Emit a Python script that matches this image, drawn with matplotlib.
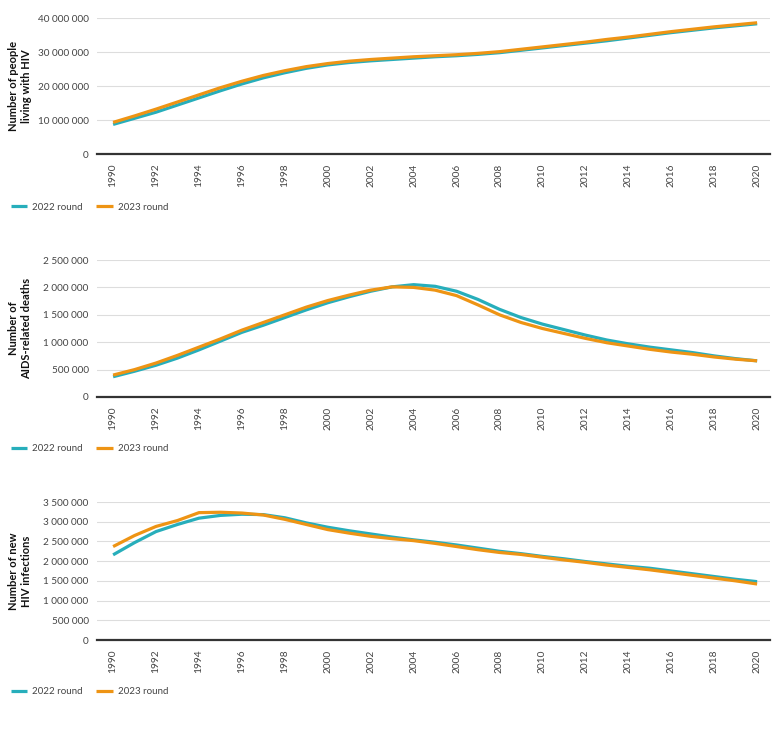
import matplotlib
matplotlib.use('Agg')
import matplotlib.pyplot as plt
from matplotlib.ticker import FuncFormatter, MultipleLocator
import numpy as np

plt.rcParams['font.family'] = ['Lato', 'DejaVu Sans']

# Data
years = list(range(1990, 2021))

plhiv_2022 = [8.7, 10.5, 12.3, 14.4, 16.5, 18.6, 20.6, 22.4, 23.9, 25.2, 26.2,
              26.9, 27.4, 27.8, 28.2, 28.6, 28.9, 29.3, 29.8, 30.5, 31.2,
              31.9, 32.6, 33.3, 34.1, 34.9, 35.7, 36.4, 37.1, 37.7, 38.3]
plhiv_2023 = [9.3, 11.2, 13.2, 15.3, 17.4, 19.5, 21.4, 23.1, 24.5, 25.7, 26.6,
              27.3, 27.8, 28.2, 28.6, 28.9, 29.2, 29.6, 30.1, 30.8, 31.5,
              32.2, 32.9, 33.7, 34.4, 35.2, 36.0, 36.7, 37.4, 38.0, 38.6]

deaths_2022 = [0.37, 0.47, 0.58, 0.71, 0.86, 1.02, 1.18, 1.31, 1.45, 1.59, 1.72,
               1.83, 1.93, 2.01, 2.05, 2.02, 1.93, 1.78, 1.60, 1.45, 1.33,
               1.23, 1.13, 1.04, 0.97, 0.91, 0.86, 0.81, 0.75, 0.70, 0.66]
deaths_2023 = [0.40, 0.50, 0.62, 0.76, 0.91, 1.06, 1.22, 1.36, 1.50, 1.64, 1.76,
               1.86, 1.95, 2.01, 2.00, 1.95, 1.85, 1.68, 1.50, 1.36, 1.25,
               1.16, 1.07, 0.99, 0.93, 0.87, 0.82, 0.78, 0.73, 0.69, 0.66]

infect_2022 = [2.16, 2.47, 2.75, 2.93, 3.09, 3.16, 3.19, 3.18, 3.10, 2.97, 2.86,
               2.77, 2.69, 2.61, 2.54, 2.48, 2.41, 2.33, 2.25, 2.19, 2.12,
               2.06, 1.99, 1.93, 1.87, 1.82, 1.75, 1.68, 1.61, 1.54, 1.48]
infect_2023 = [2.37, 2.65, 2.88, 3.03, 3.23, 3.24, 3.22, 3.17, 3.06, 2.93, 2.80,
               2.71, 2.63, 2.57, 2.52, 2.45, 2.37, 2.29, 2.22, 2.17, 2.10,
               2.03, 1.97, 1.90, 1.84, 1.78, 1.71, 1.64, 1.57, 1.50, 1.42]

panels = [
    ("Number of people\nliving with HIV", plhiv_2022, plhiv_2023, 40e6, 10e6),
    ("Number of\nAIDS-related deaths", deaths_2022, deaths_2023, 2.5e6, 0.5e6),
    ("Number of new\nHIV infections", infect_2022, infect_2023, 3.5e6, 0.5e6),
]
series_names = ["2022 round", "2023 round"]
teal = '#27AEBB'
orange = '#EE9414'

W, H = 778, 741
fig = plt.figure(figsize=(W / 100, H / 100), dpi=100)

# pixel boxes (top, bottom) for each panel
boxes = [(18, 154), (260, 397), (502, 640)]
legend_y = [207, 449, 692]
left, right = 97, 770

fmt = FuncFormatter(lambda v, p: f"{v:,.0f}".replace(',', ' '))

for (label, s22, s23, ymax, step), (top, bot), ly in zip(panels, boxes, legend_y):
    ax = fig.add_axes([left / W, 1 - bot / H, (right - left) / W, (bot - top) / H])
    ax.plot(years, np.array(s22) * 1e6, color=teal, lw=2.3, label=series_names[0],
            solid_capstyle='butt')
    ax.plot(years, np.array(s23) * 1e6, color=orange, lw=2.3, label=series_names[1],
            solid_capstyle='butt')
    ax.set_xlim(1989.25, 2020.6)
    ax.set_ylim(0, ymax)
    ax.yaxis.set_major_locator(MultipleLocator(step))
    ax.yaxis.set_major_formatter(fmt)
    ax.set_xticks(range(1990, 2021, 2))
    ax.tick_params(axis='x', rotation=90, length=0, pad=7, labelsize=7.3, labelcolor='#444444')
    ax.tick_params(axis='y', length=0, pad=6, labelsize=7.2, labelcolor='#444444')
    ax.grid(axis='y', color='#dddddd', lw=0.8)
    ax.set_axisbelow(True)
    for s in ['top', 'right', 'left']:
        ax.spines[s].set_visible(False)
    ax.spines['bottom'].set_color('#333333')
    ax.spines['bottom'].set_linewidth(1.6)
    ax.spines['bottom'].set_zorder(5)

    fig.text(20 / W, 1 - (top + bot) / 2 / H, label, rotation=90, ha='center', va='center',
             fontsize=8, fontweight='bold', color='#111111', multialignment='center',
             linespacing=1.3)

    fig.legend(handles=ax.get_lines(), loc='center left',
               bbox_to_anchor=(2 / W, 1 - ly / H), ncol=2, frameon=False,
               fontsize=7, handlelength=1.7, handletextpad=0.5, columnspacing=1.4,
               labelcolor='#444444')

fig.savefig('out.png', dpi=100)
